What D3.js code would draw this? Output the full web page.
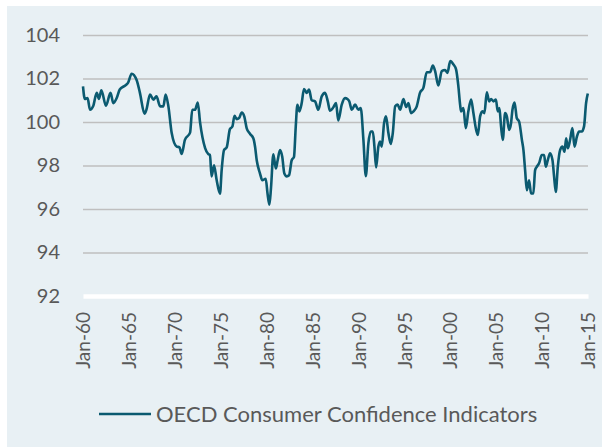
<!DOCTYPE html>
<html><head><meta charset="UTF-8">
<style>
  body { margin: 0; background: #fff; font-family: Lato, "Open Sans", sans-serif; }
  svg { display: block; }
</style>
</head>
<body>
<svg id="chart"></svg>
<script src="https://cdn.jsdelivr.net/npm/d3@7"></script>
<script>
// decimal years, with the index value at each
var years = [
  1960.0, 1960.2, 1960.5, 1960.76, 1961.1, 1961.5, 1961.74, 1962.0, 1962.5, 1963.0,
  1963.3, 1963.67, 1964.0, 1964.6, 1964.9, 1965.3, 1965.85, 1966.2, 1966.7, 1966.9,
  1967.3, 1967.66, 1968.0, 1968.4, 1968.75, 1969.0, 1969.3, 1969.66, 1970.2, 1970.5,
  1970.75, 1971.1, 1971.66, 1971.9, 1972.2, 1972.5, 1972.75, 1973.3, 1973.65, 1973.83,
  1974.0, 1974.27, 1974.56, 1974.92, 1975.1, 1975.36, 1975.65, 1976.0, 1976.27, 1976.5,
  1976.74, 1977.0, 1977.29, 1977.57, 1977.83, 1978.2, 1978.55, 1978.74, 1978.92, 1979.28,
  1979.53, 1979.9, 1980.1, 1980.3, 1980.48, 1980.73, 1981.0, 1981.2, 1981.46, 1981.7,
  1981.93, 1982.19, 1982.44, 1982.73, 1982.98, 1983.17, 1983.35, 1983.56, 1983.82, 1984.07,
  1984.37, 1984.62, 1984.91, 1985.27, 1985.63, 1986.0, 1986.36, 1986.66, 1986.9, 1987.27,
  1987.56, 1987.8, 1988.18, 1988.54, 1988.8, 1989.0, 1989.27, 1989.63, 1990.0, 1990.25,
  1990.54, 1990.8, 1991.08, 1991.34, 1991.56, 1991.74, 1991.92, 1992.17, 1992.35, 1992.54,
  1992.79, 1993.0, 1993.26, 1993.52, 1993.74, 1994.0, 1994.28, 1994.53, 1994.9, 1995.19,
  1995.44, 1995.73, 1996.0, 1996.35, 1996.7, 1997.07, 1997.44, 1997.8, 1998.1, 1998.35,
  1998.7, 1999.08, 1999.43, 1999.69, 2000.0, 2000.34, 2000.63, 2000.88, 2001.07, 2001.18,
  2001.43, 2001.69, 2001.97, 2002.27, 2002.52, 2002.78, 2003.0, 2003.25, 2003.5, 2003.72,
  2003.98, 2004.23, 2004.45, 2004.7, 2004.97, 2005.17, 2005.35, 2005.53, 2005.72, 2005.97,
  2006.16, 2006.41, 2006.62, 2006.77, 2007.0, 2007.25, 2007.5, 2007.8, 2007.97, 2008.15,
  2008.34, 2008.58, 2008.8, 2009.05, 2009.24, 2009.42, 2009.67, 2009.97, 2010.22, 2010.4,
  2010.62, 2010.87, 2011.13, 2011.31, 2011.49, 2011.71, 2011.96, 2012.22, 2012.44, 2012.62,
  2012.8, 2013.05, 2013.3, 2013.53, 2013.79, 2014.03, 2014.32, 2014.57, 2014.79, 2014.98
];
var values = [
  101.64, 101.06, 101.1, 100.56, 100.72, 101.34, 101.06, 101.46, 100.75, 101.34,
  100.87, 101.1, 101.49, 101.68, 101.8, 102.22, 101.92, 101.34, 100.38, 100.56,
  101.26, 101.03, 101.18, 100.72, 100.72, 101.26, 100.72, 99.49, 98.87, 98.84,
  98.53, 99.18, 99.51, 100.56, 100.56, 100.9, 99.98, 98.8, 98.52, 98.48,
  97.5, 98.01, 97.32, 96.7, 97.78, 98.71, 98.83, 99.67, 99.79, 100.28,
  100.13, 100.18, 100.44, 100.25, 99.71, 99.45, 99.25, 98.86, 98.24, 97.63,
  97.32, 97.39, 96.7, 96.2, 97.0, 98.52, 97.86, 98.24, 98.71, 98.4,
  97.63, 97.5, 97.55, 98.24, 98.4, 99.79, 100.79, 100.49, 100.87, 101.52,
  101.34, 101.49, 101.0, 100.95, 100.56, 101.18, 101.34, 100.95, 100.52, 100.68,
  100.87, 100.07, 100.8, 101.1, 101.06, 100.95, 100.56, 100.8, 100.56, 100.64,
  99.18, 97.51, 99.02, 99.56, 99.56, 98.87, 97.91, 98.87, 99.1, 98.87,
  99.95, 100.26, 99.49, 98.99, 99.49, 100.72, 100.8, 100.56, 101.06, 100.69,
  100.87, 100.41, 100.49, 100.72, 101.34, 101.57, 102.29, 102.29, 102.6, 102.34,
  101.68, 102.34, 102.39, 102.26, 102.8, 102.65, 102.42, 101.65, 100.8, 100.49,
  100.64, 99.72, 100.49, 101.03, 100.41, 99.72, 99.41, 100.26, 100.49, 100.41,
  101.37, 100.95, 101.06, 100.95, 101.03, 100.49, 100.64, 99.8, 99.18, 100.41,
  100.26, 99.64, 99.95, 100.56, 100.9, 100.17, 100.02, 99.18, 98.71, 97.79,
  96.86, 97.32, 96.71, 96.71, 97.79, 97.94, 98.1, 98.48, 98.48, 97.94,
  98.25, 98.56, 98.25, 97.48, 96.78, 97.94, 98.71, 98.87, 98.63, 99.25,
  98.79, 99.18, 99.72, 98.87, 99.33, 99.56, 99.56, 99.8, 100.87, 101.31
];
var xTicks = [1960, 1965, 1970, 1975, 1980, 1985, 1990, 1995, 2000, 2005, 2010, 2015];
var yTicks = [92, 94, 96, 98, 100, 102, 104];
var seriesName = "OECD Consumer Confidence Indicators";

var width = 602, height = 448;
var margin = {top: 35, left: 83, right: 14, bottom: 152};
var lineColor = "#0b5a70";

var svg = d3.select("#chart").attr("width", width).attr("height", height);

// panel background
svg.append("rect")
  .attr("x", 7).attr("y", 6)
  .attr("width", width - 7).attr("height", height - 7)
  .attr("fill", "#e8f0f4");

var x = d3.scaleLinear()
  .domain([1960, 2015])
  .range([margin.left, width - margin.right]);

var y = d3.scaleLinear()
  .domain([92, 104])
  .range([height - margin.bottom, margin.top]);

// gridlines
var yAxis = d3.axisLeft(y)
  .tickValues(yTicks)
  .tickSize(-(x.range()[1] - x.range()[0]))
  .tickPadding(23)
  .tickFormat(d3.format("d"));

var gy = svg.append("g")
  .attr("transform", "translate(" + margin.left + ",0)")
  .call(yAxis);
gy.select(".domain").remove();
gy.selectAll(".tick line")
  .attr("stroke", "#bfbfbf")
  .attr("stroke-width", 1.5)
  .filter(function (d) { return d === 92; }).remove();
gy.selectAll(".tick text")
  .attr("fill", "#595959")
  .style("font-size", "20px")
  .style("font-family", "Lato, sans-serif");

// x axis
var xAxis = d3.axisBottom(x)
  .tickValues(xTicks)
  .tickSize(0)
  .tickPadding(0)
  .tickFormat(function (d) { return "Jan-" + String(d).slice(2); });

var gx = svg.append("g")
  .attr("transform", "translate(0," + y(92) + ")")
  .call(xAxis);
gx.select(".domain")
  .attr("stroke", "#ffffff")
  .attr("stroke-width", 4.5);
gx.selectAll(".tick text")
  .attr("fill", "#595959")
  .style("font-size", "19px")
  .style("font-family", "Lato, sans-serif")
  .attr("text-anchor", "end")
  .attr("dy", "0.35em")
  .attr("transform", "translate(0,16) rotate(-90)")
  .attr("x", 0).attr("y", 0);

// series line
var line = d3.line()
  .x(function (d) { return x(d[0]); })
  .y(function (d) { return y(d[1]); })
  .curve(d3.curveMonotoneX);

svg.append("path")
  .datum(d3.zip(years, values))
  .attr("fill", "none")
  .attr("stroke", lineColor)
  .attr("stroke-width", 2.6)
  .attr("stroke-linejoin", "round")
  .attr("d", line);

// legend
var legend = svg.append("g").attr("transform", "translate(99,414)");
legend.append("line")
  .attr("x1", 0).attr("x2", 52)
  .attr("stroke", lineColor).attr("stroke-width", 2.6);
legend.append("text")
  .attr("x", 57).attr("dy", "0.35em")
  .attr("fill", "#595959")
  .style("font-size", "22px")
  .text(seriesName);
</script>
</body></html>
